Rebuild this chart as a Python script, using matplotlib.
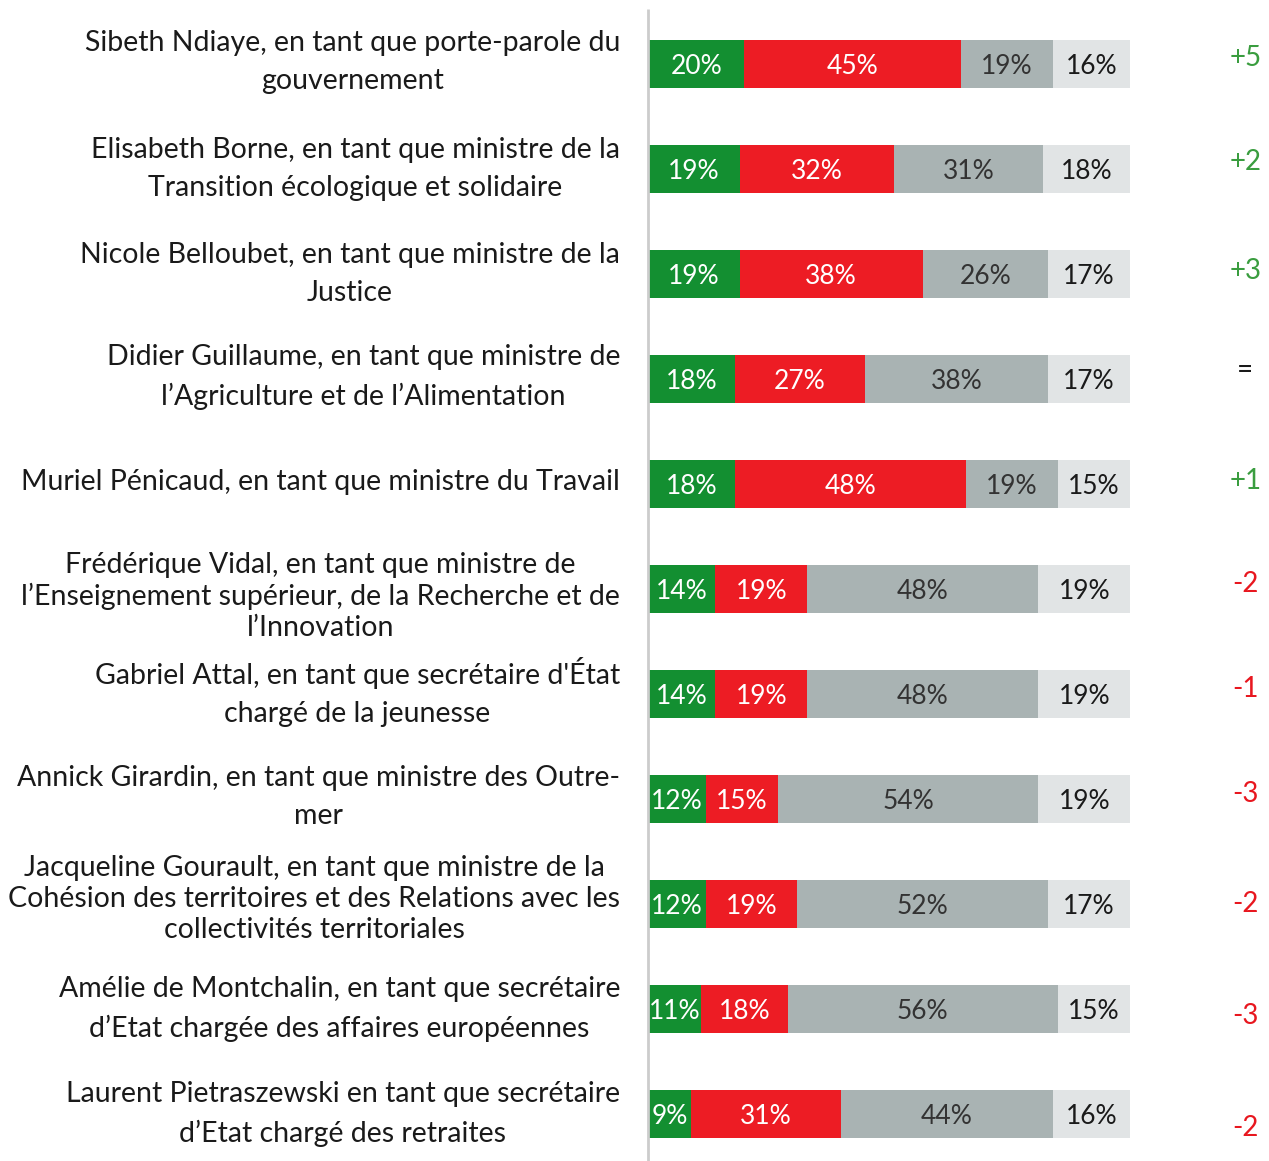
import matplotlib.pyplot as plt
import numpy as np

plt.rcParams['font.family'] = ['Lato', 'DejaVu Sans']

names = [
    "Sibeth Ndiaye, en tant que porte-parole du\ngouvernement",
    "Elisabeth Borne, en tant que ministre de la\nTransition écologique et solidaire",
    "Nicole Belloubet, en tant que ministre de la\nJustice",
    "Didier Guillaume, en tant que ministre de\nl’Agriculture et de l’Alimentation",
    "Muriel Pénicaud, en tant que ministre du Travail",
    "Frédérique Vidal, en tant que ministre de\nl’Enseignement supérieur, de la Recherche et de\nl’Innovation",
    "Gabriel Attal, en tant que secrétaire d'État\nchargé de la jeunesse",
    "Annick Girardin, en tant que ministre des Outre-\nmer",
    "Jacqueline Gourault, en tant que ministre de la\nCohésion des territoires et des Relations avec les\ncollectivités territoriales",
    "Amélie de Montchalin, en tant que secrétaire\nd’Etat chargée des affaires européennes",
    "Laurent Pietraszewski en tant que secrétaire\nd’Etat chargé des retraites",
]
satisfied = [20, 19, 19, 18, 18, 14, 14, 12, 12, 11, 9]
dissatisfied = [45, 32, 38, 27, 48, 19, 19, 15, 19, 18, 31]
no_opinion = [19, 31, 26, 38, 19, 48, 48, 54, 52, 56, 44]
unknown = [16, 18, 17, 17, 15, 19, 19, 19, 17, 15, 16]
changes = ["+5", "+2", "+3", "=", "+1", "-2", "-1", "-3", "-2", "-3", "-2"]
change_offsets = [-0.06, -0.07, -0.03, -0.09, -0.03, -0.05, -0.05, -0.05, 0.0, 0.07, 0.13]
label_offsets = [-0.02, 0, 0, -0.02, -0.02, 0.07, -0.02, -0.02, -0.05, 0, 0]

colors = ['#138f31', '#ed1c24', '#a9b3b3', '#e1e4e5']
text_colors = ['white', 'white', '#333333', '#1a1a1a']

fig = plt.figure(figsize=(12.69, 11.61), dpi=100)
ax = fig.add_axes([648 / 1269, 0, 482 / 1269, 1])
ax.set_xlim(0, 100)
ax.set_ylim((1161 - 64) / 105, -64 / 105)
ax.axis('off')

y = np.arange(len(names))
series = [satisfied, dissatisfied, no_opinion, unknown]
left = np.zeros(len(names))
for vals, c, tc in zip(series, colors, text_colors):
    vals = np.array(vals)
    ax.barh(y, vals, left=left, height=0.457, color=c, edgecolor='none')
    for yi, l, v in zip(y, left, vals):
        ax.text(l + v / 2, yi + 0.02, f"{v}%", ha='center', va='center',
                color=tc, fontsize=19)
    left = left + vals

ax.vlines(0, -0.52, 10.5, color='#cccccc', lw=2, clip_on=False)

for yi, name, off in zip(y, names, label_offsets):
    ls = 1.23 if name.count('\n') >= 2 else 1.57
    ax.text(-5.8, yi + off, name, ha='right', va='center', multialignment='center',
            fontsize=20.5, color='#1a1a1a', linespacing=ls, clip_on=False)

for yi, ch, off in zip(y, changes, change_offsets):
    if ch.startswith('+'):
        c = '#3a9d3f'
    elif ch.startswith('-'):
        c = '#e8171f'
    else:
        c = '#1a1a1a'
    ax.text(123.9, yi + off, ch, ha='center', va='center', color=c,
            fontsize=20, clip_on=False)

fig.savefig('out.png', dpi=100)
